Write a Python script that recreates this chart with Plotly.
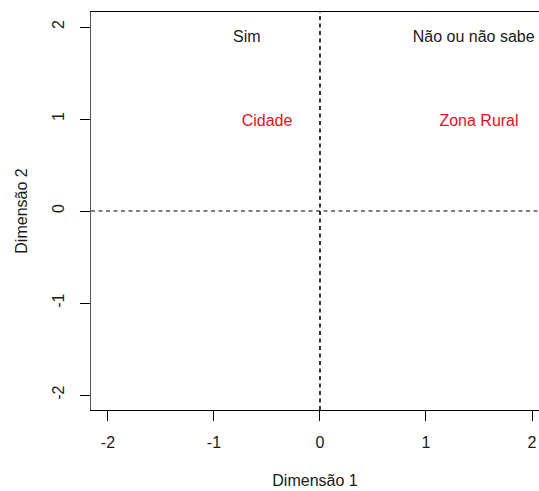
import plotly.graph_objects as go

row_labels = ["Sim", "Não ou não sabe"]
row_x = [-0.69, 1.45]
row_y = [1.88, 1.88]
col_labels = ["Cidade", "Zona Rural"]
col_x = [-0.50, 1.50]
col_y = [0.97, 0.97]
tick_vals = [-2, -1, 0, 1, 2]
tick_text = ["-2", "-1", "0", "1", "2"]

FONT = "Liberation Sans, Arial, sans-serif"
FS = 16

fig = go.Figure()
fig.add_trace(go.Scatter(x=row_x, y=row_y, mode="text", text=row_labels,
                         textfont=dict(color="#1a1a1a", size=FS, family=FONT),
                         showlegend=False, hoverinfo="skip", cliponaxis=False))
fig.add_trace(go.Scatter(x=col_x, y=col_y, mode="text", text=col_labels,
                         textfont=dict(color="#e0101e", size=FS, family=FONT),
                         showlegend=False, hoverinfo="skip", cliponaxis=False))

fig.add_shape(type="line", xref="paper", yref="y", x0=0, x1=1, y0=0, y1=0,
              line=dict(color="black", width=1, dash="4px,3.5px"))
fig.add_shape(type="line", xref="x", yref="paper", x0=0, x1=0, y0=0, y1=1,
              line=dict(color="black", width=1.6, dash="4px,3.5px"))

fig.update_layout(
    width=539, height=491,
    margin=dict(l=91, r=0, t=12, b=81, pad=0),
    plot_bgcolor="white", paper_bgcolor="white",
    font=dict(family=FONT, size=FS, color="#1a1a1a"),
    hovermode=False,
    xaxis=dict(range=[-2.16, 2.066], tickvals=tick_vals, ticktext=tick_text,
               showgrid=False, zeroline=False, showline=True, mirror=True,
               linecolor="black", linewidth=1, ticks="outside", ticklen=10,
               tickcolor="black", tickfont=dict(size=FS), ticklabelstandoff=8,
               automargin=False,
               title=dict(text="Dimensão 1", font=dict(size=FS), standoff=24)),
    yaxis=dict(range=[-2.163, 2.163], tickvals=tick_vals, ticktext=tick_text,
               showgrid=False, zeroline=False, showline=True, mirror=False,
               linecolor="#555", linewidth=1.2, ticks="outside", ticklen=10,
               tickcolor="black", tickangle=-90, tickfont=dict(size=FS),
               ticklabelstandoff=9, automargin=False,
               title=dict(text="Dimensão 2", font=dict(size=FS), standoff=18)),
)

# remove the browser's default page margin so the figure sits at the page corner
fig.write_html("out.html",
               config={"displayModeBar": False, "staticPlot": True},
               post_script="document.body.style.margin='0';document.body.style.overflow='hidden';")
